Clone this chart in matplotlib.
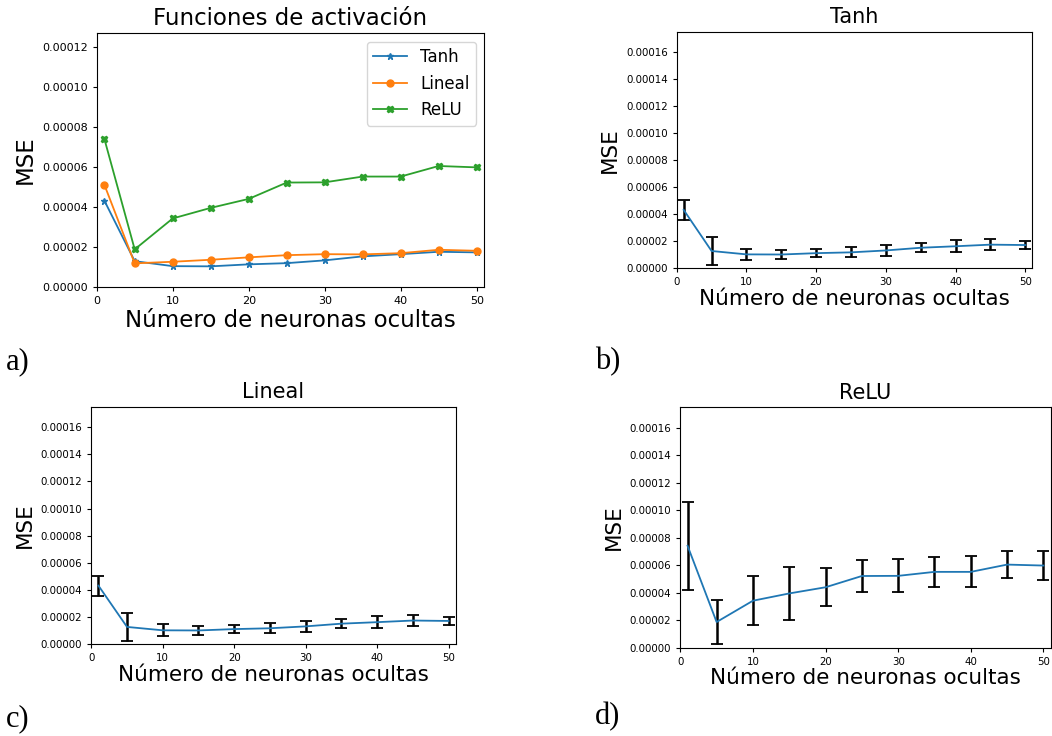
import numpy as np
import matplotlib
matplotlib.use("Agg")
import matplotlib.pyplot as plt

# datos
neuronas = [1, 5, 10, 15, 20, 25, 30, 35, 40, 45, 50]

mse_tanh = [4.32e-5, 1.28e-5, 1.03e-5, 1.02e-5, 1.12e-5, 1.18e-5, 1.32e-5, 1.52e-5, 1.63e-5, 1.75e-5, 1.72e-5]
mse_lineal = [5.12e-5, 1.17e-5, 1.25e-5, 1.35e-5, 1.47e-5, 1.58e-5, 1.63e-5, 1.62e-5, 1.68e-5, 1.85e-5, 1.80e-5]
mse_relu = [7.42e-5, 1.87e-5, 3.42e-5, 3.95e-5, 4.40e-5, 5.22e-5, 5.23e-5, 5.52e-5, 5.52e-5, 6.05e-5, 5.98e-5]

# desviaciones (barras de error)
std_tanh = [0.74e-5, 1.04e-5, 0.43e-5, 0.35e-5, 0.32e-5, 0.36e-5, 0.43e-5, 0.34e-5, 0.46e-5, 0.43e-5, 0.31e-5]
std_relu = [3.20e-5, 1.60e-5, 1.80e-5, 1.93e-5, 1.37e-5, 1.20e-5, 1.20e-5, 1.08e-5, 1.12e-5, 0.97e-5, 1.08e-5]

W, H = 1052, 736
fig = plt.figure(figsize=(W / 100, H / 100), dpi=100)


def ax_px(l, t, r, b):
    return fig.add_axes([l / W, 1 - b / H, (r - l) / W, (b - t) / H])


def label(x, y, s):
    fig.text(x / W, 1 - y / H, s, fontsize=22, family="Liberation Serif", va="baseline", ha="left")


#a) todas las funciones
ax = ax_px(96.7, 33.3, 484.3, 286.7)
ax.plot(neuronas, mse_tanh, marker="*", ms=5, lw=1.3, label="Tanh")
ax.plot(neuronas, mse_lineal, marker="o", ms=5, lw=1.3, label="Lineal")
ax.plot(neuronas, mse_relu, marker="X", ms=5, lw=1.3, label="ReLU")
ax.set_xlim(0, 51)
ax.set_ylim(0, 0.000127)
ax.set_yticks(np.arange(0, 0.000121, 0.00002))
ax.set_title("Funciones de activación", fontsize=16.5)
ax.set_xlabel("Número de neuronas ocultas", fontsize=16.5, labelpad=2)
ax.set_ylabel("MSE", fontsize=16.5)
ax.tick_params(labelsize=8, length=3)
ax.legend(loc="upper right", fontsize=12)
label(6, 369, "a)")

# b, c, d con barras de error
paneles = [
    ("Tanh", mse_tanh, std_tanh, (676.7, 31.7, 1032.3, 268.3), (595, 369), "b)"),
    ("Lineal", mse_tanh, std_tanh, (91.3, 406.7, 455.7, 644.3), (6, 726), "c)"),
    ("ReLU", mse_relu, std_relu, (680.3, 407.3, 1050.7, 647.7), (595, 724), "d)"),
]
for titulo, y, e, pos, lpos, lab in paneles:
    ax = ax_px(*pos)
    ax.errorbar(neuronas, y, yerr=e, ecolor="black", elinewidth=1.8, capsize=4, capthick=1.3, lw=1.3)
    ax.set_xlim(0, 51)
    ax.set_ylim(0, 0.000175)
    ax.set_yticks(np.arange(0, 0.000161, 0.00002))
    ax.set_title(titulo, fontsize=15)
    ax.set_xlabel("Número de neuronas ocultas", fontsize=15.5, labelpad=1)
    ax.set_ylabel("MSE", fontsize=15.5)
    ax.tick_params(labelsize=7.4, length=3)
    label(lpos[0], lpos[1], lab)

fig.savefig("out.png", dpi=100)
